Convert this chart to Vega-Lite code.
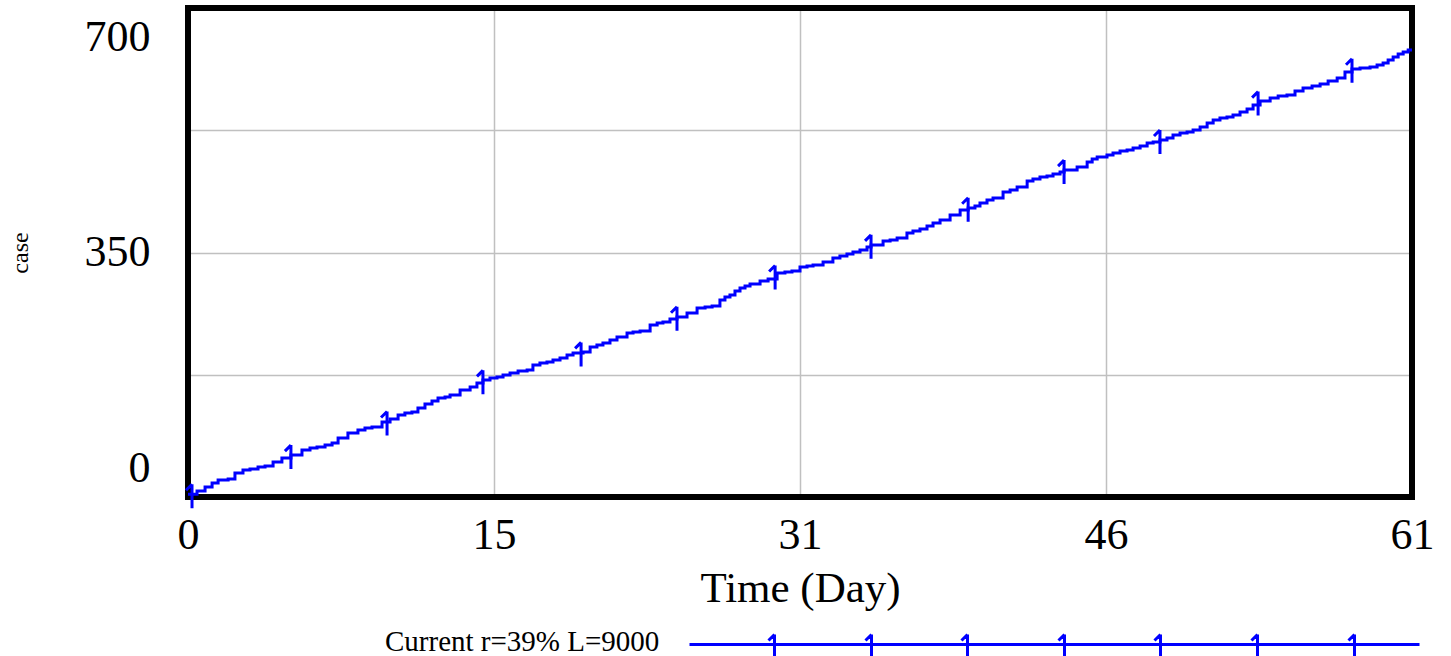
{
  "$schema": "https://vega.github.io/schema/vega-lite/v6.json",
  "width": 1224,
  "height": 489,
  "autosize": "none",
  "padding": {"left": 188, "top": 8, "right": 39, "bottom": 159},
  "background": "white",
  "view": {"stroke": "black", "strokeWidth": 6},
  "config": {
    "view": {"stroke": "black", "strokeWidth": 6},
    "axis": {
      "grid": true,
      "gridColor": "#c0c0c0",
      "gridWidth": 1.5,
      "ticks": false,
      "domain": false,
      "labelFont": "Liberation Serif",
      "labelFontSize": 44,
      "labelColor": "black",
      "titleFont": "Liberation Serif",
      "titleColor": "black",
      "titleFontWeight": "normal",
      "labelOverlap": false,
      "labelFlush": false
    }
  },
  "data": {
    "values": [
      {"t": 0, "v": 4, "series": "Current r=39% L=9000"},
      {"t": 0.45, "v": 8.6, "series": "Current r=39% L=9000"},
      {"t": 0.85, "v": 14.3, "series": "Current r=39% L=9000"},
      {"t": 1.2, "v": 20, "series": "Current r=39% L=9000"},
      {"t": 1.5, "v": 24.3, "series": "Current r=39% L=9000"},
      {"t": 2.0, "v": 25.8, "series": "Current r=39% L=9000"},
      {"t": 2.34, "v": 34.4, "series": "Current r=39% L=9000"},
      {"t": 2.74, "v": 38.6, "series": "Current r=39% L=9000"},
      {"t": 3.09, "v": 40.1, "series": "Current r=39% L=9000"},
      {"t": 3.49, "v": 42.9, "series": "Current r=39% L=9000"},
      {"t": 3.84, "v": 44.4, "series": "Current r=39% L=9000"},
      {"t": 4.24, "v": 50.1, "series": "Current r=39% L=9000"},
      {"t": 4.68, "v": 55.8, "series": "Current r=39% L=9000"},
      {"t": 5.13, "v": 60.1, "series": "Current r=39% L=9000"},
      {"t": 5.68, "v": 67.3, "series": "Current r=39% L=9000"},
      {"t": 6.08, "v": 70.1, "series": "Current r=39% L=9000"},
      {"t": 6.43, "v": 71.6, "series": "Current r=39% L=9000"},
      {"t": 6.83, "v": 74.4, "series": "Current r=39% L=9000"},
      {"t": 7.18, "v": 77.3, "series": "Current r=39% L=9000"},
      {"t": 7.48, "v": 84.5, "series": "Current r=39% L=9000"},
      {"t": 7.97, "v": 91.6, "series": "Current r=39% L=9000"},
      {"t": 8.47, "v": 95.9, "series": "Current r=39% L=9000"},
      {"t": 8.82, "v": 98.8, "series": "Current r=39% L=9000"},
      {"t": 9.17, "v": 100.2, "series": "Current r=39% L=9000"},
      {"t": 9.67, "v": 107.4, "series": "Current r=39% L=9000"},
      {"t": 10.07, "v": 111.7, "series": "Current r=39% L=9000"},
      {"t": 10.47, "v": 117.4, "series": "Current r=39% L=9000"},
      {"t": 10.81, "v": 120.2, "series": "Current r=39% L=9000"},
      {"t": 11.16, "v": 121.7, "series": "Current r=39% L=9000"},
      {"t": 11.46, "v": 127.4, "series": "Current r=39% L=9000"},
      {"t": 11.81, "v": 133.1, "series": "Current r=39% L=9000"},
      {"t": 12.16, "v": 137.4, "series": "Current r=39% L=9000"},
      {"t": 12.46, "v": 141.7, "series": "Current r=39% L=9000"},
      {"t": 12.81, "v": 143.2, "series": "Current r=39% L=9000"},
      {"t": 13.06, "v": 146.0, "series": "Current r=39% L=9000"},
      {"t": 13.56, "v": 153.2, "series": "Current r=39% L=9000"},
      {"t": 14.06, "v": 157.5, "series": "Current r=39% L=9000"},
      {"t": 14.4, "v": 163.2, "series": "Current r=39% L=9000"},
      {"t": 14.7, "v": 167.5, "series": "Current r=39% L=9000"},
      {"t": 15.05, "v": 170.3, "series": "Current r=39% L=9000"},
      {"t": 15.4, "v": 171.8, "series": "Current r=39% L=9000"},
      {"t": 15.7, "v": 174.6, "series": "Current r=39% L=9000"},
      {"t": 16.05, "v": 177.5, "series": "Current r=39% L=9000"},
      {"t": 16.45, "v": 180.4, "series": "Current r=39% L=9000"},
      {"t": 16.9, "v": 181.8, "series": "Current r=39% L=9000"},
      {"t": 17.19, "v": 189.0, "series": "Current r=39% L=9000"},
      {"t": 17.54, "v": 191.8, "series": "Current r=39% L=9000"},
      {"t": 17.89, "v": 193.3, "series": "Current r=39% L=9000"},
      {"t": 18.19, "v": 196.1, "series": "Current r=39% L=9000"},
      {"t": 18.54, "v": 199.0, "series": "Current r=39% L=9000"},
      {"t": 18.89, "v": 203.3, "series": "Current r=39% L=9000"},
      {"t": 19.19, "v": 206.1, "series": "Current r=39% L=9000"},
      {"t": 19.69, "v": 207.6, "series": "Current r=39% L=9000"},
      {"t": 20.04, "v": 214.7, "series": "Current r=39% L=9000"},
      {"t": 20.38, "v": 217.6, "series": "Current r=39% L=9000"},
      {"t": 20.68, "v": 220.5, "series": "Current r=39% L=9000"},
      {"t": 21.03, "v": 224.7, "series": "Current r=39% L=9000"},
      {"t": 21.38, "v": 229.0, "series": "Current r=39% L=9000"},
      {"t": 21.88, "v": 234.8, "series": "Current r=39% L=9000"},
      {"t": 22.18, "v": 236.2, "series": "Current r=39% L=9000"},
      {"t": 22.53, "v": 237.6, "series": "Current r=39% L=9000"},
      {"t": 23.03, "v": 246.2, "series": "Current r=39% L=9000"},
      {"t": 23.38, "v": 249.1, "series": "Current r=39% L=9000"},
      {"t": 23.67, "v": 250.5, "series": "Current r=39% L=9000"},
      {"t": 24.02, "v": 254.8, "series": "Current r=39% L=9000"},
      {"t": 24.37, "v": 257.7, "series": "Current r=39% L=9000"},
      {"t": 24.87, "v": 263.4, "series": "Current r=39% L=9000"},
      {"t": 25.37, "v": 270.6, "series": "Current r=39% L=9000"},
      {"t": 25.77, "v": 272.0, "series": "Current r=39% L=9000"},
      {"t": 26.12, "v": 273.4, "series": "Current r=39% L=9000"},
      {"t": 26.51, "v": 282.0, "series": "Current r=39% L=9000"},
      {"t": 26.76, "v": 286.3, "series": "Current r=39% L=9000"},
      {"t": 27.01, "v": 289.2, "series": "Current r=39% L=9000"},
      {"t": 27.26, "v": 294.9, "series": "Current r=39% L=9000"},
      {"t": 27.51, "v": 299.2, "series": "Current r=39% L=9000"},
      {"t": 27.76, "v": 302.0, "series": "Current r=39% L=9000"},
      {"t": 28.01, "v": 304.9, "series": "Current r=39% L=9000"},
      {"t": 28.51, "v": 309.2, "series": "Current r=39% L=9000"},
      {"t": 28.91, "v": 312.1, "series": "Current r=39% L=9000"},
      {"t": 29.36, "v": 320.7, "series": "Current r=39% L=9000"},
      {"t": 29.75, "v": 322.1, "series": "Current r=39% L=9000"},
      {"t": 30.1, "v": 323.5, "series": "Current r=39% L=9000"},
      {"t": 30.5, "v": 329.2, "series": "Current r=39% L=9000"},
      {"t": 30.85, "v": 330.7, "series": "Current r=39% L=9000"},
      {"t": 31.15, "v": 332.1, "series": "Current r=39% L=9000"},
      {"t": 31.65, "v": 336.4, "series": "Current r=39% L=9000"},
      {"t": 32.14, "v": 342.1, "series": "Current r=39% L=9000"},
      {"t": 32.49, "v": 345.0, "series": "Current r=39% L=9000"},
      {"t": 32.84, "v": 347.9, "series": "Current r=39% L=9000"},
      {"t": 33.14, "v": 350.7, "series": "Current r=39% L=9000"},
      {"t": 33.49, "v": 353.6, "series": "Current r=39% L=9000"},
      {"t": 33.84, "v": 357.9, "series": "Current r=39% L=9000"},
      {"t": 34.04, "v": 360.7, "series": "Current r=39% L=9000"},
      {"t": 34.64, "v": 366.5, "series": "Current r=39% L=9000"},
      {"t": 34.99, "v": 367.9, "series": "Current r=39% L=9000"},
      {"t": 35.34, "v": 370.8, "series": "Current r=39% L=9000"},
      {"t": 35.83, "v": 377.9, "series": "Current r=39% L=9000"},
      {"t": 36.13, "v": 380.8, "series": "Current r=39% L=9000"},
      {"t": 36.48, "v": 383.6, "series": "Current r=39% L=9000"},
      {"t": 36.83, "v": 387.9, "series": "Current r=39% L=9000"},
      {"t": 37.13, "v": 392.2, "series": "Current r=39% L=9000"},
      {"t": 37.48, "v": 396.5, "series": "Current r=39% L=9000"},
      {"t": 37.98, "v": 403.7, "series": "Current r=39% L=9000"},
      {"t": 38.48, "v": 410.8, "series": "Current r=39% L=9000"},
      {"t": 38.88, "v": 413.7, "series": "Current r=39% L=9000"},
      {"t": 39.22, "v": 416.6, "series": "Current r=39% L=9000"},
      {"t": 39.47, "v": 420.9, "series": "Current r=39% L=9000"},
      {"t": 39.82, "v": 425.2, "series": "Current r=39% L=9000"},
      {"t": 40.12, "v": 428.0, "series": "Current r=39% L=9000"},
      {"t": 40.62, "v": 436.6, "series": "Current r=39% L=9000"},
      {"t": 40.97, "v": 439.5, "series": "Current r=39% L=9000"},
      {"t": 41.32, "v": 443.8, "series": "Current r=39% L=9000"},
      {"t": 41.82, "v": 452.4, "series": "Current r=39% L=9000"},
      {"t": 42.11, "v": 455.2, "series": "Current r=39% L=9000"},
      {"t": 42.46, "v": 458.1, "series": "Current r=39% L=9000"},
      {"t": 42.81, "v": 459.5, "series": "Current r=39% L=9000"},
      {"t": 43.11, "v": 462.4, "series": "Current r=39% L=9000"},
      {"t": 43.46, "v": 465.2, "series": "Current r=39% L=9000"},
      {"t": 43.66, "v": 468.1, "series": "Current r=39% L=9000"},
      {"t": 44.31, "v": 472.4, "series": "Current r=39% L=9000"},
      {"t": 44.81, "v": 479.6, "series": "Current r=39% L=9000"},
      {"t": 45.06, "v": 483.8, "series": "Current r=39% L=9000"},
      {"t": 45.31, "v": 486.7, "series": "Current r=39% L=9000"},
      {"t": 45.8, "v": 489.6, "series": "Current r=39% L=9000"},
      {"t": 46.1, "v": 492.4, "series": "Current r=39% L=9000"},
      {"t": 46.45, "v": 495.3, "series": "Current r=39% L=9000"},
      {"t": 46.8, "v": 496.7, "series": "Current r=39% L=9000"},
      {"t": 47.1, "v": 499.6, "series": "Current r=39% L=9000"},
      {"t": 47.45, "v": 502.5, "series": "Current r=39% L=9000"},
      {"t": 47.8, "v": 506.8, "series": "Current r=39% L=9000"},
      {"t": 48.1, "v": 508.2, "series": "Current r=39% L=9000"},
      {"t": 48.44, "v": 511.0, "series": "Current r=39% L=9000"},
      {"t": 48.79, "v": 513.9, "series": "Current r=39% L=9000"},
      {"t": 49.09, "v": 518.2, "series": "Current r=39% L=9000"},
      {"t": 49.44, "v": 521.1, "series": "Current r=39% L=9000"},
      {"t": 49.79, "v": 522.5, "series": "Current r=39% L=9000"},
      {"t": 50.09, "v": 525.4, "series": "Current r=39% L=9000"},
      {"t": 50.44, "v": 529.7, "series": "Current r=39% L=9000"},
      {"t": 50.79, "v": 535.4, "series": "Current r=39% L=9000"},
      {"t": 51.09, "v": 539.7, "series": "Current r=39% L=9000"},
      {"t": 51.43, "v": 542.5, "series": "Current r=39% L=9000"},
      {"t": 51.78, "v": 544.0, "series": "Current r=39% L=9000"},
      {"t": 52.08, "v": 546.8, "series": "Current r=39% L=9000"},
      {"t": 52.43, "v": 551.1, "series": "Current r=39% L=9000"},
      {"t": 52.78, "v": 555.4, "series": "Current r=39% L=9000"},
      {"t": 53.08, "v": 561.1, "series": "Current r=39% L=9000"},
      {"t": 53.43, "v": 566.9, "series": "Current r=39% L=9000"},
      {"t": 53.93, "v": 571.2, "series": "Current r=39% L=9000"},
      {"t": 54.33, "v": 574.0, "series": "Current r=39% L=9000"},
      {"t": 54.77, "v": 575.5, "series": "Current r=39% L=9000"},
      {"t": 55.17, "v": 581.2, "series": "Current r=39% L=9000"},
      {"t": 55.57, "v": 585.5, "series": "Current r=39% L=9000"},
      {"t": 56.02, "v": 588.3, "series": "Current r=39% L=9000"},
      {"t": 56.42, "v": 591.2, "series": "Current r=39% L=9000"},
      {"t": 56.82, "v": 595.5, "series": "Current r=39% L=9000"},
      {"t": 57.27, "v": 599.8, "series": "Current r=39% L=9000"},
      {"t": 57.66, "v": 608.4, "series": "Current r=39% L=9000"},
      {"t": 58.01, "v": 612.7, "series": "Current r=39% L=9000"},
      {"t": 58.41, "v": 614.1, "series": "Current r=39% L=9000"},
      {"t": 58.91, "v": 615.5, "series": "Current r=39% L=9000"},
      {"t": 59.26, "v": 618.4, "series": "Current r=39% L=9000"},
      {"t": 59.56, "v": 621.3, "series": "Current r=39% L=9000"},
      {"t": 59.81, "v": 625.6, "series": "Current r=39% L=9000"},
      {"t": 60.06, "v": 629.9, "series": "Current r=39% L=9000"},
      {"t": 60.31, "v": 634.2, "series": "Current r=39% L=9000"},
      {"t": 60.56, "v": 637.0, "series": "Current r=39% L=9000"},
      {"t": 60.81, "v": 639.9, "series": "Current r=39% L=9000"},
      {"t": 61, "v": 641.3, "series": "Current r=39% L=9000"}
    ]
  },
  "layer": [
    {
      "data": {"values": [{"t0": 0, "t1": 61, "v0": 0, "v1": 700}]},
      "mark": {"type": "rect", "fill": null, "fillOpacity": 0, "stroke": "black", "strokeWidth": 6, "clip": false},
      "encoding": {
        "x": {"field": "t0", "type": "quantitative"},
        "x2": {"field": "t1"},
        "y": {"field": "v0", "type": "quantitative"},
        "y2": {"field": "v1"}
      }
    },
    {
      "mark": {"type": "line", "interpolate": "step-after", "strokeWidth": 3, "clip": true},
      "encoding": {
        "x": {
          "field": "t", "type": "quantitative",
          "scale": {"domain": [0, 61], "nice": false, "zero": false},
          "axis": {
            "values": [0, 15.25, 30.5, 45.75, 61],
            "labelExpr": "format(round(datum.value), 'd')",
            "labelPadding": 16,
            "title": "Time (Day)",
            "titleFontSize": 43,
            "titlePadding": 10
          }
        },
        "y": {
          "field": "v", "type": "quantitative",
          "scale": {"domain": [0, 700], "nice": false, "zero": false},
          "axis": {
            "values": [0, 175, 350, 525, 700],
            "labelExpr": "datum.value == 175 || datum.value == 525 ? '' : datum.label",
            "labelPadding": 38,
            "labelBaseline": "middle",
            "labelOffset": {"condition": [{"test": "datum.value == 700", "value": 29}, {"test": "datum.value == 0", "value": -29}], "value": 0},
            "title": "case",
            "titleFontSize": 24,
            "titlePadding": 52
          }
        },
        "color": {
          "field": "series", "type": "nominal",
          "scale": {"range": ["#0000ff"]},
          "legend": {
            "orient": "none",
            "legendX": 197,
            "legendY": 611,
            "padding": 0,
            "title": "Current r=39% L=9000",
            "titleOrient": "left",
            "titleAngle": 0,
            "titleBaseline": "middle",
            "titleAlign": "left",
            "titleFont": "Liberation Serif",
            "titleFontSize": 29,
            "titleFontWeight": "normal",
            "titleColor": "black",
            "titleLimit": 1000,
            "titlePadding": 15,
            "labelExpr": "''",
            "labelFontSize": 29,
            "symbolType": "M0,11H730M85,1V25M85,1L79,7M182,1V25M182,1L176,7M278,1V25M278,1L272,7M375,1V25M375,1L369,7M471,1V25M471,1L465,7M568,1V25M568,1L562,7M665,1V25M665,1L659,7",
            "symbolSize": 4,
            "symbolStrokeWidth": 3,
            "symbolStrokeColor": "#0000ff",
            "symbolFillColor": "transparent"
          }
        }
      }
    },
    {
      "data": {
        "values": [
          {"t": 0.2, "v": 4},
          {"t": 5.13, "v": 60},
          {"t": 9.92, "v": 108},
          {"t": 14.7, "v": 167},
          {"t": 19.59, "v": 207},
          {"t": 24.37, "v": 258},
          {"t": 29.26, "v": 317},
          {"t": 34.04, "v": 361},
          {"t": 38.88, "v": 414},
          {"t": 43.66, "v": 468},
          {"t": 48.44, "v": 511},
          {"t": 53.33, "v": 566},
          {"t": 58.01, "v": 613}
        ]
      },
      "mark": {"type": "point", "shape": "M0,-10L0,14M0,-10L-6,-4", "size": 4, "filled": false, "strokeWidth": 3, "color": "#0000ff", "opacity": 1, "clip": false},
      "encoding": {
        "x": {"field": "t", "type": "quantitative"},
        "y": {"field": "v", "type": "quantitative"}
      }
    }
  ]
}
